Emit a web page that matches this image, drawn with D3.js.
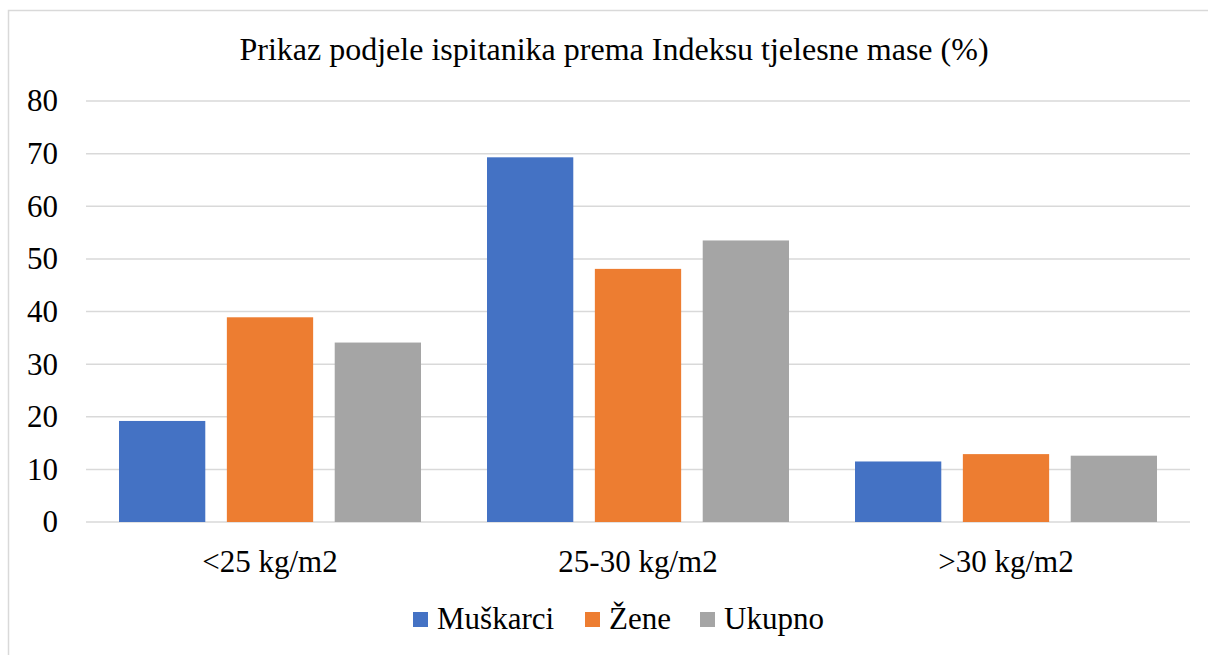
<!DOCTYPE html>
<html>
<head>
<meta charset="utf-8">
<script src="https://cdn.jsdelivr.net/npm/d3@7"></script>
<style>
  html, body { margin: 0; padding: 0; background: #fff; }
</style>
</head>
<body>
<div id="chart"></div>
<script>
// BMI distribution chart -- grouped bars

const categories = ['<25 kg/m2', '25-30 kg/m2', '>30 kg/m2'];
const seriesNames = ['Muškarci', 'Žene', 'Ukupno'];
const muskarci = [19.2, 69.3, 11.5];
const zene = [38.9, 48.1, 12.9];
const ukupno = [34.1, 53.5, 12.6];
const yTicks = [0, 10, 20, 30, 40, 50, 60, 70, 80];
const title = 'Prikaz podjele ispitanika prema Indeksu tjelesne mase (%)';

const seriesValues = [muskarci, zene, ukupno];
const colors = ['#4472c4', '#ed7d31', '#a5a5a5'];
const FONT = "'Times New Roman', 'Liberation Serif', 'DejaVu Serif', serif";

const width = 1208;
const height = 655;
const margin = { top: 101, right: 18, bottom: 133, left: 86 };
const innerW = width - margin.left - margin.right;
const innerH = height - margin.top - margin.bottom;

const svg = d3.select('#chart').append('svg')
  .attr('width', width)
  .attr('height', height);

// chart border
svg.append('rect')
  .attr('x', 8.5).attr('y', 10.5)
  .attr('width', 1210).attr('height', 660)
  .attr('fill', 'none')
  .attr('stroke', '#d9d9d9')
  .attr('stroke-width', 1.5);

svg.append('text')
  .attr('x', 614).attr('y', 60)
  .attr('text-anchor', 'middle')
  .style('font-family', FONT)
  .style('font-size', '32px')
  .attr('fill', '#000')
  .text(title);

const g = svg.append('g')
  .attr('transform', `translate(${margin.left},${margin.top})`);

const x0 = d3.scaleBand()
  .domain(categories)
  .range([0, innerW])
  .padding(0);

const x1 = d3.scaleBand()
  .domain(seriesNames)
  .range([33, x0.bandwidth() - 33])
  .paddingInner(0.2);

const y = d3.scaleLinear()
  .domain([0, 80])
  .range([innerH, 0]);

// gridlines
g.append('g')
  .selectAll('line')
  .data(yTicks)
  .join('line')
  .attr('x1', 0).attr('x2', innerW)
  .attr('y1', d => y(d)).attr('y2', d => y(d))
  .attr('stroke', '#d9d9d9')
  .attr('stroke-width', 1.5);

// y axis labels
const yAxis = g.append('g')
  .call(d3.axisLeft(y).tickValues(yTicks).tickSize(0).tickPadding(28));
yAxis.select('.domain').remove();
yAxis.selectAll('text')
  .style('font-size', '31px')
  .style('font-family', FONT)
  .attr('fill', '#000');

// bars
g.selectAll('.group')
  .data(categories)
  .join('g')
  .attr('class', 'group')
  .attr('transform', d => `translate(${x0(d)},0)`)
  .selectAll('rect')
  .data((c, ci) => seriesNames.map((s, si) => ({ s, si, v: seriesValues[si][ci] })))
  .join('rect')
  .attr('x', d => x1(d.s))
  .attr('y', d => y(d.v))
  .attr('width', x1.bandwidth())
  .attr('height', d => innerH - y(d.v))
  .attr('fill', d => colors[d.si]);

// x axis labels
const xAxis = g.append('g')
  .attr('transform', `translate(0,${innerH})`)
  .call(d3.axisBottom(x0).tickSize(0).tickPadding(28));
xAxis.select('.domain').remove();
xAxis.selectAll('text')
  .style('font-size', '31px')
  .style('font-family', FONT)
  .attr('fill', '#000');

// legend
const legendX = [413, 585, 700];
const legend = svg.append('g');
seriesNames.forEach((name, i) => {
  const row = legend.append('g').attr('transform', `translate(${legendX[i]},612)`);
  row.append('rect').attr('width', 15).attr('height', 15).attr('fill', colors[i]);
  row.append('text').attr('x', 24).attr('y', 17)
    .style('font-size', '31px')
    .style('font-family', FONT)
    .attr('fill', '#000')
    .text(name);
});
</script>
</body>
</html>
